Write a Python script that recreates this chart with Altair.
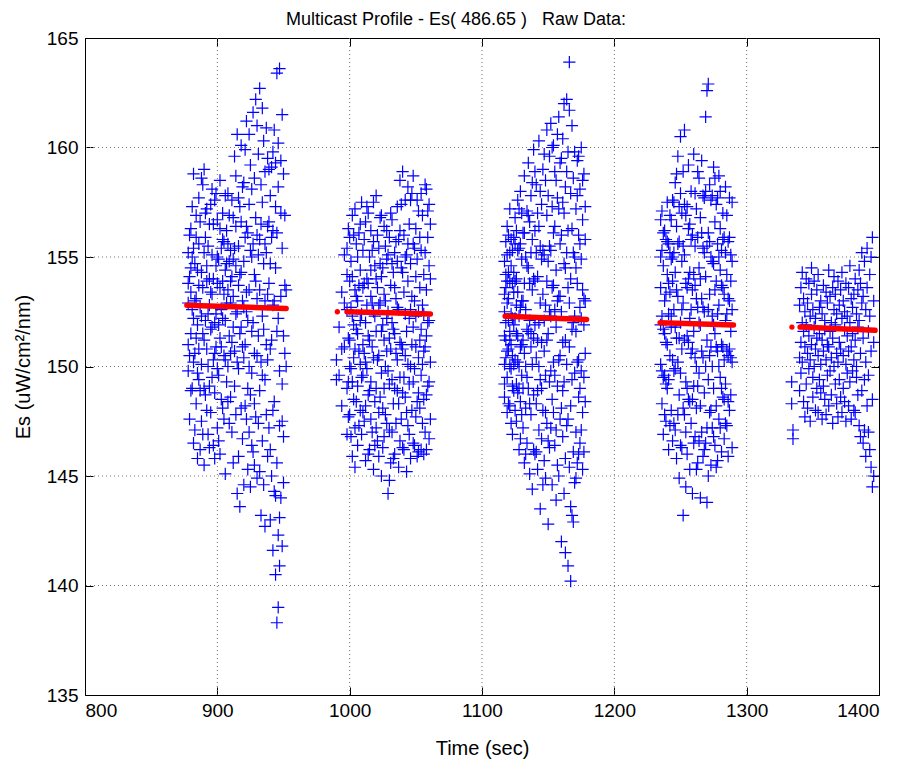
import altair as alt
import pandas as pd

# ---------------- data ----------------
x_ticks = [800, 900, 1000, 1100, 1200, 1300, 1400]
y_ticks = [135, 140, 145, 150, 155, 160, 165]
title_text = "Multicast Profile - Es( 486.65 )\u00a0\u00a0\u00a0Raw Data:"

# cluster 1 (about 878-952 s)
c1_t = [878, 879, 880, 881, 882, 883, 884, 885, 886, 887, 888, 889, 890, 891, 892, 893, 894, 895,
        896, 897, 898, 899, 900, 901, 902, 903, 904, 905, 906, 907, 908, 909, 910, 911, 912, 913,
        914, 915, 916, 917, 918, 919, 920, 921, 922, 923, 924, 925, 926, 927, 928, 929, 930, 931,
        932, 933, 934, 935, 936, 937, 938, 939, 940, 941, 942, 943, 944, 945, 946, 947, 948, 949,
        950, 951, 952]
c1_v = [[152.9, 155.2, 149.8], [154.1, 147.6], [151.5, 156.3, 153.4], [149.0, 155.0],
        [152.2, 158.8, 146.5], [150.6, 154.7], [156.9, 148.3, 153.1], [145.8, 151.9],
        [155.6, 149.4, 157.7], [152.7, 146.2], [154.3, 150.1, 147.5], [158.3, 153.6],
        [151.2, 159.0, 145.5], [148.7, 155.9], [153.9, 150.8, 157.2], [146.9, 152.4],
        [156.5, 149.1, 154.0], [151.7, 147.9], [155.1, 153.3, 158.1], [150.3, 146.4],
        [157.6, 152.0, 148.8], [154.6, 150.9], [153.8, 156.7, 147.2], [149.6, 154.9],
        [158.5, 151.3, 146.0], [155.4, 152.6], [148.1, 157.0, 153.9], [150.5, 155.7],
        [154.4, 145.1, 152.1], [156.2, 149.3], [153.5, 157.9, 150.0], [147.4, 154.8],
        [152.9, 155.3, 148.6], [154.1, 151.1], [156.8, 153.2, 145.6], [150.7, 159.6],
        [154.6, 147.8, 152.4], [160.6, 144.2], [155.5, 149.9, 153.7], [143.6, 157.3],
        [151.8, 154.3, 160.1], [146.7, 153.0], [158.4, 150.4, 144.6], [155.9, 148.2],
        [152.5, 161.2, 156.4], [149.0, 145.3], [157.4, 153.5, 147.0], [144.5, 159.2],
        [151.6, 155.0, 149.7], [161.6, 146.1], [154.2, 158.6, 150.6], [162.2, 147.7],
        [153.1, 156.0, 144.9], [159.7, 151.4], [148.9, 155.8, 162.7], [150.2, 143.2],
        [157.5, 152.3, 146.6], [160.3, 154.7], [149.4, 158.9, 142.7], [155.2, 151.0],
        [145.9, 159.5, 153.3], [147.2, 156.6], [143.0, 157.8, 150.8], [159.1, 145.0],
        [152.8, 141.6, 156.2], [160.8, 148.4], [144.1, 154.5, 140.5], [138.3, 163.4, 151.6],
        [139.0, 158.2, 142.3], [163.6, 147.3, 140.9], [157.0, 144.0], [155.4, 149.2, 141.8],
        [158.8, 146.8], [153.7, 156.9], [150.0]]
c1_w = [[153.8, 151.0], [156.0, 150.5], [148.9, 154.5], [152.6, 157.3], [150.2, 155.4],
        [147.1, 153.0], [151.3, 155.9], [154.4, 149.7], [150.8, 153.7], [156.6, 148.9],
        [152.3, 158.6], [146.9, 151.5], [155.2, 149.0], [152.1, 157.0], [148.0, 154.6],
        [155.5, 150.0], [152.8, 146.3], [157.4, 153.4], [149.5, 151.8], [154.0, 156.5],
        [150.6, 145.8], [152.4, 157.9], [155.0, 149.9], [151.9, 146.6], [153.6, 156.3],
        [148.5, 150.9], [155.8, 152.2], [147.6, 153.3], [157.8, 150.3], [152.9, 154.7],
        [148.4, 155.6], [151.4, 156.9], [153.9, 150.6], [147.0, 157.6], [154.9, 151.8],
        [149.1, 155.4], [156.4, 158.7], [152.5, 150.2], [145.9, 157.7], [154.2, 151.5],
        [148.1, 156.6], [158.2, 150.9], [154.8, 152.7], [151.0, 159.9], [147.6, 153.4],
        [156.1, 152.1], [150.0, 160.6], [155.3, 148.7], [158.1, 146.4], [152.0, 155.6],
        [145.5, 148.3], [156.8, 153.9], [150.5, 161.0], [147.4, 155.1], [153.5, 145.2],
        [158.3, 156.5], [149.6, 161.8], [144.6, 151.7], [155.6, 153.0], [147.8, 160.9],
        [150.3, 156.4], [153.8, 159.0], [146.2, 154.7], [151.2, 155.9], [148.0, 159.8],
        [153.0, 144.3], [157.3, 159.3], [145.6, 156.1], [152.2, 160.2], [149.8, 143.1],
        [153.2, 159.4], [147.5, 161.5], [151.4, 144.7], [150.6], [153.5]]

# cluster 2 (about 990-1061 s)
c2_t = [990, 992, 994, 996, 998, 999, 1000, 1001, 1002, 1003, 1004, 1005, 1006, 1007, 1008, 1009,
        1010, 1011, 1012, 1013, 1014, 1015, 1016, 1017, 1018, 1019, 1020, 1021, 1022, 1023, 1024,
        1025, 1026, 1027, 1028, 1029, 1030, 1031, 1032, 1033, 1034, 1035, 1036, 1037, 1038, 1039,
        1040, 1041, 1042, 1043, 1044, 1045, 1046, 1047, 1048, 1049, 1050, 1051, 1052, 1053, 1054,
        1055, 1056, 1057, 1058, 1059, 1060, 1061]
c2_v = [[150.3, 149.4], [151.8], [148.2, 153.4], [155.1, 150.9], [146.9, 152.6, 154.2],
        [149.3, 156.3], [151.2, 147.8, 153.9], [154.8, 149.9], [145.9, 152.3, 156.9],
        [150.4, 148.5], [153.5, 157.2, 147.2], [151.7, 155.6], [149.1, 146.4, 153.0],
        [156.1, 150.7], [148.0, 154.4, 152.1], [157.5, 146.9], [151.0, 155.3, 149.6],
        [153.8, 147.5], [150.2, 156.6, 145.7], [154.0, 152.8], [148.7, 157.0, 151.4],
        [146.2, 155.0], [153.2, 149.3, 156.2], [150.9, 147.0], [155.7, 152.5, 145.3],
        [148.4, 154.6], [151.6, 157.8, 149.0], [146.6, 153.6], [155.4, 150.5, 147.9],
        [152.9, 156.8], [149.7, 154.1, 145.0], [151.9, 148.1], [156.4, 153.3, 146.8],
        [150.0, 155.5], [147.4, 152.2, 154.9], [144.2, 149.8], [155.9, 151.3, 147.1],
        [153.7, 145.6], [149.4, 156.7, 152.0], [148.3, 154.3], [151.5, 146.0, 155.2],
        [150.6, 153.1], [157.3, 148.9, 152.7], [145.4, 155.8], [151.1, 158.5, 149.5],
        [154.5, 147.6], [158.9, 150.8, 146.3], [153.4, 156.0], [148.6, 152.4, 157.6],
        [155.1, 145.2], [150.1, 153.9, 147.3], [156.5, 149.2], [152.6, 145.8, 154.7],
        [148.0, 157.9], [151.8, 155.6, 146.5], [153.0, 149.9], [147.7, 156.3, 152.3],
        [154.9, 145.9], [150.4, 157.1, 148.8], [153.6, 151.2], [146.2, 155.3, 149.6],
        [152.8, 156.9], [148.5, 154.2, 150.7], [158.3, 147.0], [151.4, 153.5, 158.1],
        [149.1, 155.9], [146.7, 152.1, 157.4], [150.2, 154.0]]
c2_w = [[], [149.6], [150.8], [152.9], [149.0, 155.4], [151.3, 147.7], [155.9, 150.0],
        [152.7, 146.8], [149.3, 154.1], [151.9, 156.0], [150.8, 145.4], [148.4, 153.2],
        [155.0, 151.5], [147.3, 153.7], [150.1, 156.5], [152.4, 149.5], [147.9, 153.6],
        [155.8, 150.6], [152.0, 148.2], [149.9, 157.3], [153.8, 146.0], [151.2, 148.9],
        [147.6, 154.4], [155.3, 152.9], [150.4, 157.5], [152.3, 146.4], [154.0, 147.2],
        [150.3, 156.0], [152.8, 145.9], [148.6, 154.7], [156.9, 151.6], [154.5, 146.3],
        [149.0, 151.2], [147.8, 153.0], [156.2, 150.7], [152.5, 155.1], [149.2, 144.8],
        [150.8, 157.0], [154.7, 147.0], [151.7, 145.8], [149.0, 153.6], [155.7, 147.4],
        [150.3, 154.8], [152.6, 148.3], [146.6, 156.2], [151.0, 157.4], [154.3, 148.8],
        [149.5, 146.2], [155.0, 150.5], [151.6, 147.9], [155.6, 158.2], [146.9, 152.2],
        [150.0, 157.6], [153.2, 151.0], [149.3, 158.7], [146.4, 155.4], [150.9, 154.1],
        [148.4, 157.6], [152.5, 146.1], [155.9, 148.1], [151.7, 157.9], [147.4, 150.1],
        [152.4, 146.0], [155.2, 150.9], [146.2, 148.7], [152.0, 157.1], [154.6, 149.3],
        [147.6, 156.5]]

# cluster 3 (about 1117-1178 s)
c3_t = [1117, 1118, 1119, 1120, 1121, 1122, 1123, 1124, 1125, 1126, 1127, 1128, 1129, 1130, 1131,
        1132, 1133, 1134, 1135, 1136, 1137, 1138, 1139, 1140, 1141, 1142, 1143, 1144, 1145, 1146,
        1147, 1148, 1149, 1150, 1151, 1152, 1153, 1154, 1155, 1156, 1157, 1158, 1159, 1160, 1161,
        1162, 1163, 1164, 1165, 1166, 1167, 1168, 1169, 1170, 1171, 1172, 1173, 1174, 1175, 1176,
        1177, 1178]
c3_v = [[152.5, 150.1, 154.8, 148.6], [153.6, 151.2, 155.7], [149.5, 152.9, 147.9, 156.4],
        [154.3, 150.8, 153.1], [151.6, 155.2, 148.2, 157.2], [152.4, 149.9, 154.6],
        [153.8, 150.5, 146.9], [155.9, 151.9, 148.9], [152.2, 156.8, 150.3], [149.2, 154.0, 147.5],
        [157.6, 151.4, 153.4], [150.0, 155.4, 146.2], [152.7, 158.0, 148.4], [154.9, 149.6, 151.0],
        [147.2, 156.1, 153.0], [150.6, 158.7, 145.6], [155.0, 148.1, 152.6], [157.1, 146.5, 151.7],
        [149.0, 154.5, 159.3], [152.1, 145.1, 156.6], [150.9, 157.8, 147.8], [155.8, 153.5, 144.4],
        [148.7, 159.9, 151.3], [156.2, 146.0, 153.9], [150.4, 158.3, 148.3], [154.1, 145.3, 157.0],
        [152.0, 160.3, 147.1], [149.4, 155.5, 143.5], [157.4, 151.1, 146.7], [153.3, 159.0, 148.0],
        [145.7, 155.1, 150.7], [158.5, 152.8, 144.9], [147.4, 156.9, 160.8], [151.5, 142.8, 154.8],
        [159.6, 149.3, 146.3], [155.3, 161.1, 152.3], [148.5, 144.6, 157.3], [153.7, 160.1, 150.2],
        [146.4, 156.4, 158.9], [151.8, 143.9, 154.4], [160.6, 149.1, 157.7], [145.0, 153.2, 161.4],
        [155.6, 147.6, 150.5], [159.5, 142.0, 152.5], [148.9, 157.5, 146.8], [154.7, 162.0, 144.2],
        [141.5, 158.2, 151.2], [162.2, 147.3, 155.2], [140.9, 153.6, 159.8], [163.9, 145.4, 150.9],
        [140.2, 157.9, 148.2], [156.3, 143.2, 161.0], [152.0, 146.1, 158.6], [149.7, 155.0, 144.7],
        [157.2, 151.6, 147.0], [159.4, 145.6, 153.8], [150.3, 156.0, 148.6], [146.5, 158.1, 152.7],
        [154.9, 149.8, 160.0], [147.9, 156.7, 145.3], [151.9, 153.1, 158.8], [155.8, 148.4, 150.6]]
c3_w = [[151.4, 153.3, 149.2], [150.4, 154.2, 152.0], [153.9, 150.7, 155.1], [148.3, 152.1, 156.0],
        [150.0, 153.9, 151.2], [155.8, 147.4, 151.0], [152.2, 155.3, 149.1], [150.1, 153.4, 154.3],
        [148.0, 153.9, 155.6], [151.5, 156.2, 152.8], [148.8, 150.2, 155.3], [152.3, 157.2, 149.0],
        [150.9, 155.6, 146.7], [147.8, 153.0, 157.0], [151.2, 149.0], [153.8, 156.1],
        [150.0, 146.0], [154.6, 149.5], [151.6, 156.9], [148.3, 153.8], [155.2, 151.5],
        [150.1, 158.4], [146.2, 154.0], [151.9, 158.9], [155.2, 146.1], [151.2, 148.9],
        [156.4, 150.0], [152.9, 158.0], [149.0, 154.9], [155.3, 144.6], [152.1, 159.7],
        [149.6, 147.9], [153.9, 151.2], [146.6, 157.8], [152.5, 155.5], [147.2, 149.8],
        [153.6, 160.0], [147.9, 156.1], [152.6, 149.6], [158.5, 147.1], [153.0, 145.5],
        [150.3, 157.2], [159.3, 153.2], [148.1, 156.0], [151.1, 160.4], [149.3, 157.0],
        [145.8, 154.5], [150.1, 158.9], [147.6, 156.2], [152.9, 161.7], [143.6, 154.0],
        [149.4, 151.7], [155.2, 142.9], [159.8, 152.3], [144.9, 154.5], [150.2, 157.8],
        [146.0, 159.6], [155.6, 149.0], [147.1, 152.2], [153.5, 158.5], [149.5, 146.1],
        [157.3, 153.0]]

# cluster 4 (about 1235-1289 s)
c4_t = [1235, 1236, 1237, 1238, 1239, 1240, 1241, 1242, 1243, 1244, 1245, 1246, 1247, 1248, 1249,
        1250, 1251, 1252, 1253, 1254, 1255, 1256, 1257, 1258, 1259, 1260, 1261, 1262, 1263, 1264,
        1265, 1266, 1267, 1268, 1269, 1270, 1271, 1272, 1273, 1274, 1275, 1276, 1277, 1278, 1279,
        1280, 1281, 1282, 1283, 1284, 1285, 1286, 1287, 1288, 1289]
c4_v = [[153.6, 150.1, 156.7], [155.3, 148.3, 157.1], [151.7, 154.6, 146.9], [156.2, 149.6, 153.0],
        [147.5, 155.8, 151.1], [154.2, 157.5, 149.0], [152.4, 146.2, 155.6], [150.5, 156.9, 153.4],
        [148.0, 154.9, 151.8], [157.6, 153.9, 146.6], [149.8, 155.2, 152.6], [158.4, 147.1, 154.3],
        [151.3, 156.4, 145.8], [159.6, 150.2, 153.2], [144.9, 155.7, 148.7], [157.9, 152.0, 160.5],
        [146.3, 154.8, 150.8], [143.2, 158.9, 152.9], [155.1, 147.8, 160.8], [149.3, 153.8, 144.5],
        [157.3, 151.4, 146.0], [154.0, 159.2, 148.5], [145.3, 156.5, 152.2], [150.6, 158.0, 147.4],
        [153.5, 144.2, 156.0], [149.1, 159.7, 151.6], [155.5, 146.8, 153.7], [148.1, 157.2, 150.0],
        [152.7, 145.6, 155.9], [158.6, 149.7, 154.5], [144.0, 151.9, 156.8], [153.1, 147.0, 159.4],
        [150.4, 155.4, 145.9], [157.7, 148.8, 152.5], [161.4, 146.5, 154.1], [162.6, 151.2, 143.8],
        [162.9, 156.1, 149.4], [147.9, 153.3, 158.3], [155.0, 145.5, 150.9], [152.3, 157.8, 147.2],
        [149.0, 154.7, 159.1], [156.6, 146.4, 151.5], [153.9, 148.2, 157.4], [150.7, 155.6, 145.7],
        [158.7, 152.8, 147.6], [149.5, 154.4, 156.3], [146.1, 151.0, 155.3], [157.0, 148.6, 153.6],
        [150.3, 155.9, 146.7], [152.1, 158.2, 149.2], [147.3, 154.2, 156.9], [155.7, 150.5, 145.9],
        [153.0, 148.0, 157.7], [151.6, 155.1, 150.4], [146.3, 152.6, 154.8]]
c4_w = [[151.9, 155.0], [152.3, 149.8], [156.1, 149.5], [151.5, 147.8], [153.3, 149.2],
        [151.0, 155.7], [153.8, 149.4], [147.3, 155.2], [156.7, 152.3], [150.3, 155.0],
        [147.4, 157.5], [151.8, 149.9], [153.5, 158.8], [147.8, 155.6], [151.3, 157.3],
        [146.4, 149.7], [157.0, 152.6], [155.5, 148.1], [151.2, 157.4], [156.9, 147.0],
        [149.0, 153.6], [151.1, 156.3], [148.4, 154.3], [155.8, 152.6], [148.5, 150.8],
        [154.2, 146.5], [150.4, 157.9], [153.1, 145.3], [149.1, 158.9], [152.0, 146.6],
        [148.2, 154.0], [156.1, 150.7], [152.7, 157.8], [146.2, 155.2], [150.0, 158.0],
        [155.5, 147.2], [152.6, 145.0], [150.5, 155.7], [148.0, 157.6], [154.8, 150.0],
        [151.9, 146.8], [153.5, 158.6], [150.9, 145.4], [152.4, 157.7], [150.0, 155.0],
        [147.2, 158.0], [153.7, 149.0], [150.9, 155.8], [153.3, 148.5], [155.2, 147.4],
        [150.7, 152.4], [148.4, 153.1], [150.8, 155.9], [148.7, 153.9], [150.2, 157.5]]

# cluster 5 (about 1334-1396 s)
c5_t = [1334, 1335, 1340, 1341, 1342, 1343, 1344, 1345, 1346, 1347, 1348, 1349, 1350, 1351, 1352,
        1353, 1354, 1355, 1356, 1357, 1358, 1359, 1360, 1361, 1362, 1363, 1364, 1365, 1366, 1367,
        1368, 1369, 1370, 1371, 1372, 1373, 1374, 1375, 1376, 1377, 1378, 1379, 1380, 1381, 1382,
        1383, 1384, 1385, 1386, 1387, 1388, 1389, 1390, 1391, 1392, 1393, 1394, 1395, 1396]
c5_v = [[149.3, 148.3], [147.1, 146.7], [150.4, 152.8, 148.9], [153.6, 151.1, 149.7],
        [152.0, 150.2, 154.3], [148.4, 153.1, 151.6], [150.9, 152.5, 147.7], [154.0, 149.2, 151.9],
        [152.9, 150.6, 148.1], [151.4, 153.8, 149.9], [147.5, 152.3, 150.3], [153.3, 151.0, 154.5],
        [149.5, 152.6, 148.6], [151.8, 150.0, 153.9], [148.0, 152.2, 150.8], [153.5, 149.0, 151.3],
        [150.5, 154.2, 147.9], [152.7, 151.5, 149.4], [148.8, 153.0, 150.1], [151.2, 147.6, 152.4],
        [153.7, 150.7, 149.1], [152.1, 148.5, 151.7], [150.3, 153.4, 147.8], [149.6, 152.9, 151.0],
        [154.4, 150.9, 148.2], [151.6, 153.2, 149.8], [148.7, 152.0, 150.4], [153.6, 151.3, 147.4],
        [150.0, 154.1, 152.6], [149.2, 151.9, 153.3], [152.4, 148.3, 150.6], [153.9, 150.2, 147.7],
        [151.1, 149.4, 152.8], [148.6, 153.5, 150.8], [152.2, 147.9, 154.3], [150.5, 153.0, 149.0],
        [151.7, 148.4, 152.5], [153.8, 150.1, 147.5], [149.7, 152.3, 151.4], [148.2, 153.6, 150.7],
        [152.0, 149.3, 154.6], [150.9, 147.6, 153.1], [151.5, 149.8, 152.7], [148.0, 153.3, 150.3],
        [154.0, 151.2, 147.9], [149.5, 152.4, 150.0], [153.5, 148.7, 151.8], [147.3, 152.1, 154.4],
        [150.6, 146.8, 153.8], [152.9, 148.9, 155.2], [146.5, 151.3, 153.2], [149.4, 154.8, 147.1],
        [152.6, 145.9, 150.2], [155.4, 148.2, 153.6], [147.0, 151.6, 149.6], [154.2, 146.2, 152.3],
        [145.4, 150.7, 155.0], [155.9, 144.5, 148.5], [153.0, 145.0, 151.1]]

# red mean line per cast, plus the lone red dots
red_line_t = [877, 900, 925, 952, 998, 1030, 1061, 1117.5, 1150, 1179, 1234.6, 1260, 1290, 1340.4, 1370, 1397]
red_line_v = [152.8, 152.75, 152.7, 152.65, 152.5, 152.45, 152.4, 152.3, 152.22, 152.15, 152.0, 151.95, 151.9, 151.8, 151.72, 151.65]
red_line_g = [1, 1, 1, 1, 2, 2, 2, 3, 3, 3, 4, 4, 4, 5, 5, 5]
red_dot_t = [990.7, 1334.2]
red_dot_v = [152.5, 151.8]

# ---------------- tables ----------------
rows = []
for tl, vl in [(c1_t, c1_v), (c1_t, c1_w), (c2_t, c2_v), (c2_t, c2_w), (c3_t, c3_v),
               (c3_t, c3_w), (c4_t, c4_v), (c4_t, c4_w), (c5_t, c5_v)]:
    for t, vs in zip(tl, vl):
        for v in vs:
            rows.append({"t": t, "v": v})
pts = pd.DataFrame(rows)
red_line = pd.DataFrame({"t": red_line_t, "v": red_line_v, "g": red_line_g})
red_dot = pd.DataFrame({"t": red_dot_t, "v": red_dot_v})

FONT = "Liberation Sans"
FS = 19
xs = alt.Scale(domain=[800, 1400], nice=False, zero=False)
ys = alt.Scale(domain=[135, 165], nice=False, zero=False)
TICK = 8

grid_x = alt.Chart(pd.DataFrame({"t": x_ticks[1:-1]})).mark_rule(
    stroke="#707070", strokeDash=[1, 3], strokeWidth=1
).encode(x=alt.X("t:Q", scale=xs, axis=None))

grid_y = alt.Chart(pd.DataFrame({"v": y_ticks[1:-1]})).mark_rule(
    stroke="#707070", strokeDash=[1, 3], strokeWidth=1
).encode(y=alt.Y("v:Q", scale=ys, axis=None))

crosses = alt.Chart(pts).mark_point(
    shape="M-1,0L1,0M0,-1L0,1", size=150, filled=False, color="#0000ff",
    strokeWidth=1.2, opacity=1, clip=True
).encode(
    x=alt.X("t:Q", scale=xs, axis=alt.Axis(
        orient="bottom", values=x_ticks, format="d", offset=-TICK, tickSize=TICK,
        tickColor="black", domain=False, grid=False, labelPadding=6,
        title="Time (sec)", titlePadding=18, titleFontSize=20)),
    y=alt.Y("v:Q", scale=ys, axis=alt.Axis(
        orient="left", values=y_ticks, format="d", offset=-TICK, tickSize=TICK,
        tickColor="black", domain=False, grid=False, labelPadding=7,
        title="Es (uW/cm²/nm)", titlePadding=13, titleFontSize=20)),
)

red_l = alt.Chart(red_line).mark_line(color="#ff0000", strokeWidth=5.5, strokeCap="round").encode(
    x=alt.X("t:Q", scale=xs, axis=None),
    y=alt.Y("v:Q", scale=ys, axis=None),
    detail="g:N",
)

red_d = alt.Chart(red_dot).mark_circle(color="#ff0000", size=28, opacity=1).encode(
    x=alt.X("t:Q", scale=xs, axis=alt.Axis(
        orient="top", values=x_ticks, offset=-TICK, tickSize=TICK, tickColor="black",
        labels=False, domain=False, grid=False, title=None)),
    y=alt.Y("v:Q", scale=ys, axis=alt.Axis(
        orient="right", values=y_ticks, offset=-TICK, tickSize=TICK, tickColor="black",
        labels=False, domain=False, grid=False, title=None)),
)

title = alt.Chart(pd.DataFrame({"s": [title_text]})).mark_text(
    font=FONT, fontSize=18, color="black", align="center", baseline="alphabetic"
).encode(x=alt.value(371), y=alt.value(-13), text="s:N")

chart = alt.layer(grid_x, grid_y, crosses, red_l, red_d, title).resolve_axis(
    x="independent", y="independent"
).properties(
    width=794, height=657,
    autosize=alt.AutoSizeParams(type="none"),
    padding={"left": 77, "top": 30, "right": 19, "bottom": 68},
).configure_view(
    stroke="black", strokeWidth=1
).configure_axis(
    labelFont=FONT, labelFontSize=FS, labelColor="black",
    titleFont=FONT, titleFontWeight="normal", titleColor="black",
)

chart.save("out.html", embed_options={"renderer": "svg", "actions": False})
